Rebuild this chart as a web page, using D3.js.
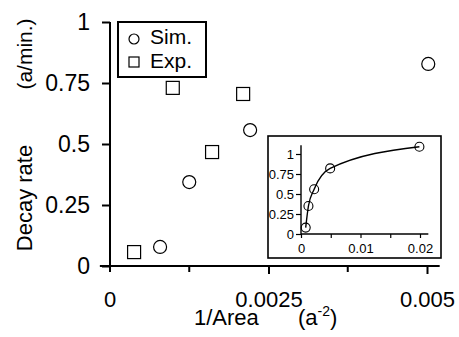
<!DOCTYPE html>
<html>
<head>
<meta charset="utf-8">
<script src="https://cdn.jsdelivr.net/npm/d3@7"></script>
<style>
  body { margin: 0; background: #fff; }
  text { font-family: "Liberation Sans", Arial, sans-serif; fill: #000; }
</style>
</head>
<body>
<div class="chart"></div>
<script>
/* DATA */
var simX = [0.00079, 0.00125, 0.00221, 0.00502];
var simY = [0.078, 0.344, 0.557, 0.828];
var expX = [0.00038, 0.00099, 0.00161, 0.0021];
var expY = [0.057, 0.73, 0.467, 0.705];
var insetX = [0.00079, 0.00125, 0.00221, 0.0049, 0.0199];
var insetY = [0.08, 0.35, 0.56, 0.82, 1.09];
var xTicks = [0, 0.0025, 0.005];
var xTickLabels = ["0", "0.0025", "0.005"];
var xMinorTicks = [0.00125, 0.00375];
var yTicks = [0, 0.25, 0.5, 0.75, 1];
var yTickLabels = ["0", "0.25", "0.5", "0.75", "1"];
var insetXTicks = [0, 0.005, 0.01, 0.015, 0.02];
var insetXLabels = ["0", "", "0.01", "", "0.02"];
var insetYTicks = [0, 0.25, 0.5, 0.75, 1];
var insetYLabels = ["0", "0.25", "0.5", "0.75", "1"];
var legendNames = ["Sim.", "Exp."];

var svg = d3.select(".chart")
  .append("svg")
    .attr("width", 459)
    .attr("height", 337);

svg.append("rect").attr("width", 459).attr("height", 337).attr("fill", "#fff");

/* SCALES */
var x = d3.scaleLinear().domain([0, 0.005]).range([110, 427]);
var y = d3.scaleLinear().domain([0, 1]).range([266, 22]);

/* Y AXIS */
var yAxis = d3.axisLeft(y)
  .tickValues(yTicks)
  .tickFormat(function(d, i) { return yTickLabels[i]; })
  .tickSize(8)
  .tickSizeOuter(0)
  .tickPadding(12);

var gy = svg.append("g")
  .attr("transform", "translate(110,0)")
  .call(yAxis);
gy.select(".domain").remove();
gy.selectAll("line").attr("stroke", "#000").attr("stroke-width", 2);
gy.selectAll("text").attr("font-size", 23).attr("font-family", "Liberation Sans, Arial, sans-serif");

svg.append("line")
  .attr("x1", x(0)).attr("x2", x(0))
  .attr("y1", y(1)).attr("y2", y(-0.025))
  .attr("stroke", "#000").attr("stroke-width", 2);

/* X AXIS */
var xAxis = d3.axisBottom(x)
  .tickValues(xTicks.slice(1))
  .tickFormat(function(d, i) { return xTickLabels[i + 1]; })
  .tickSize(8)
  .tickSizeOuter(0)
  .tickPadding(17);

var gx = svg.append("g")
  .attr("transform", "translate(0,266)")
  .call(xAxis);
gx.select(".domain").remove();
gx.selectAll("line").attr("stroke", "#000").attr("stroke-width", 2);
gx.selectAll("text").attr("font-size", 22).attr("font-family", "Liberation Sans, Arial, sans-serif");

// label for 0 (the tick itself is the y axis)
svg.append("text")
  .attr("x", x(0)).attr("y", 307)
  .attr("text-anchor", "middle")
  .attr("font-size", 22)
  .text(xTickLabels[0]);

gx.selectAll(".minor")
  .data(xMinorTicks)
  .enter().append("line")
  .attr("x1", function(d) { return x(d); })
  .attr("x2", function(d) { return x(d); })
  .attr("y1", 0).attr("y2", 6)
  .attr("stroke", "#000").attr("stroke-width", 2);

svg.append("line")
  .attr("x1", x(-0.00016)).attr("x2", x(0.0052))
  .attr("y1", y(0)).attr("y2", y(0))
  .attr("stroke", "#000").attr("stroke-width", 2);

/* AXIS TITLES */
var xt = svg.append("text")
  .attr("x", 194).attr("y", 325)
  .attr("font-size", 22);
xt.append("tspan").text("1/Area");
xt.append("tspan").attr("x", 298).text("(a");
xt.append("tspan").attr("font-size", 14).attr("dy", -9).text("-2");
xt.append("tspan").attr("dy", 9).text(")");

svg.append("text")
  .attr("transform", "translate(32,198) rotate(-90)")
  .attr("text-anchor", "middle")
  .attr("font-size", 22)
  .text("Decay rate");
svg.append("text")
  .attr("transform", "translate(32,54) rotate(-90)")
  .attr("text-anchor", "middle")
  .attr("font-size", 21)
  .text("(a/min.)");

/* POINTS */
svg.append("g").selectAll("circle")
  .data(d3.zip(simX, simY))
  .enter().append("circle")
  .attr("cx", function(d) { return x(d[0]); })
  .attr("cy", function(d) { return y(d[1]); })
  .attr("r", 6.5)
  .attr("fill", "#fff")
  .attr("stroke", "#000")
  .attr("stroke-width", 1.2);

svg.append("g").selectAll("rect")
  .data(d3.zip(expX, expY))
  .enter().append("rect")
  .attr("x", function(d) { return x(d[0]) - 6.5; })
  .attr("y", function(d) { return y(d[1]) - 6.5; })
  .attr("width", 13).attr("height", 13)
  .attr("fill", "#fff")
  .attr("stroke", "#000")
  .attr("stroke-width", 1.2);

/* LEGEND */
var legend = svg.append("g");
legend.append("rect")
  .attr("x", 118).attr("y", 22)
  .attr("width", 88).attr("height", 55)
  .attr("fill", "#fff")
  .attr("stroke", "#000")
  .attr("stroke-width", 2);
legend.append("circle")
  .attr("cx", 134).attr("cy", 39).attr("r", 5)
  .attr("fill", "#fff").attr("stroke", "#000").attr("stroke-width", 1.2);
legend.append("rect")
  .attr("x", 129).attr("y", 57).attr("width", 10).attr("height", 10)
  .attr("fill", "#fff").attr("stroke", "#000").attr("stroke-width", 1.2);
legend.selectAll(".lt")
  .data(legendNames)
  .enter().append("text")
  .attr("x", 150)
  .attr("y", function(d, i) { return 44 + i * 24; })
  .attr("font-size", 21)
  .text(function(d) { return d; });

/* INSET */
var ix = d3.scaleLinear().domain([0, 0.02]).range([301, 420]);
var iy = d3.scaleLinear().domain([0, 1]).range([234, 154]);

svg.append("rect")
  .attr("x", 268).attr("y", 136)
  .attr("width", 173).attr("height", 122)
  .attr("fill", "#fff")
  .attr("stroke", "#000")
  .attr("stroke-width", 1.6);

var giy = svg.append("g")
  .attr("transform", "translate(301,0)")
  .call(d3.axisLeft(iy)
    .tickValues(insetYTicks)
    .tickFormat(function(d, i) { return insetYLabels[i]; })
    .tickSize(5).tickSizeOuter(0).tickPadding(2));
giy.select(".domain").remove();
giy.selectAll("line").attr("stroke", "#000").attr("stroke-width", 1.2);
giy.selectAll("text").attr("font-size", 13).attr("font-family", "Liberation Sans, Arial, sans-serif");

var gix = svg.append("g")
  .attr("transform", "translate(0,234)")
  .call(d3.axisBottom(ix)
    .tickValues(insetXTicks)
    .tickFormat(function(d, i) { return insetXLabels[i]; })
    .tickSize(4).tickSizeOuter(0).tickPadding(6));
gix.select(".domain").remove();
gix.selectAll("line").attr("stroke", "#000").attr("stroke-width", 1.2);
gix.selectAll("text").attr("font-size", 13).attr("font-family", "Liberation Sans, Arial, sans-serif");

svg.append("line")
  .attr("x1", ix(0)).attr("x2", ix(0))
  .attr("y1", iy(1.11)).attr("y2", iy(0))
  .attr("stroke", "#000").attr("stroke-width", 1.4);
svg.append("line")
  .attr("x1", ix(0)).attr("x2", ix(0.0214))
  .attr("y1", iy(0)).attr("y2", iy(0))
  .attr("stroke", "#000").attr("stroke-width", 1.4);

var insetPts = d3.zip(insetX, insetY);
svg.append("path")
  .datum(insetPts)
  .attr("fill", "none")
  .attr("stroke", "#000")
  .attr("stroke-width", 1.4)
  .attr("d", d3.line()
    .x(function(d) { return ix(d[0]); })
    .y(function(d) { return iy(d[1]); })
    .curve(d3.curveMonotoneX));

svg.append("g").selectAll("circle")
  .data(insetPts)
  .enter().append("circle")
  .attr("cx", function(d) { return ix(d[0]); })
  .attr("cy", function(d) { return iy(d[1]); })
  .attr("r", 4.5)
  .attr("fill", "none")
  .attr("stroke", "#000")
  .attr("stroke-width", 1.1);
</script>
</body>
</html>
